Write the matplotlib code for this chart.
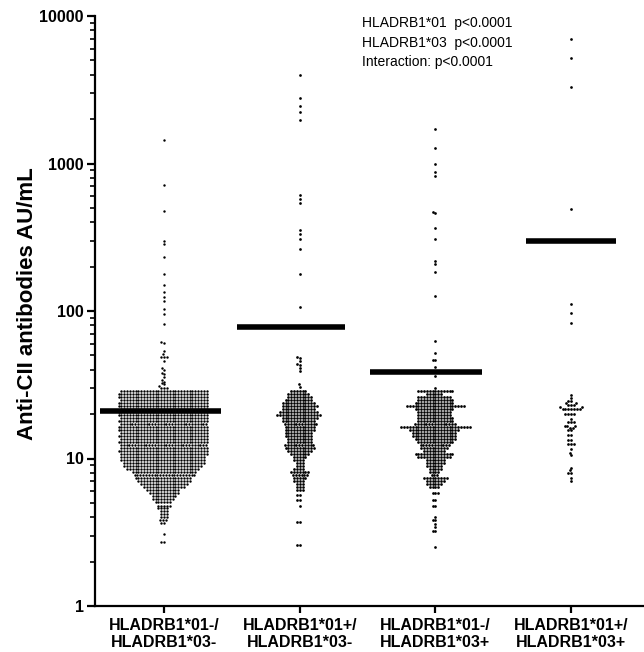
import numpy as np
import matplotlib
matplotlib.use("Agg")
import matplotlib.pyplot as plt
import seaborn as sns
import pandas as pd

plt.rcParams['font.family'] = ['Liberation Sans', 'DejaVu Sans']

categories = ["HLADRB1*01-/\nHLADRB1*03-", "HLADRB1*01+/\nHLADRB1*03-",
              "HLADRB1*01-/\nHLADRB1*03+", "HLADRB1*01+/\nHLADRB1*03+"]
medians = [21.0, 77.5, 38.6, 300.0]
annotation = ["HLADRB1*01  p<0.0001", "HLADRB1*03  p<0.0001", "Interaction: p<0.0001"]
yticks = [1, 10, 100, 1000, 10000]

# Group 1: isolated high values, then rows of (nearly) equal values with counts
g1_tail = [1450, 718, 476, 300, 283, 231, 178, 151, 134, 125, 116, 103, 95, 81,
           62, 61, 53.3, 50.9, 49, 49, 49, 45.6, 40.9, 39.8, 38.2, 37.2, 35.5,
           34, 33.2, 32.4, 31.8, 30.9, 30, 30, 30]
g1_levels = [28.7, 27.4, 26.1, 24.9, 23.8, 22.7, 21.7, 20.7, 19.7, 18.8, 18.0,
             17.1, 16.4, 15.6, 14.9, 14.2, 13.6, 12.9, 12.3, 11.8, 11.2, 10.7,
             10.2, 9.75, 9.3, 8.9, 8.5, 8.1, 7.7, 7.4, 7.0, 6.7, 6.4, 6.1, 5.8,
             5.55, 5.3, 5.05, 4.8, 4.6, 4.4, 4.2, 4.0, 3.8, 3.65, 3.1, 2.7]
g1_counts = [31, 32, 32, 31, 32, 32, 31, 32, 32, 31, 32, 31, 32, 32, 31, 32, 31,
             32, 31, 31, 32, 31, 30, 30, 29, 28, 26, 23, 22, 20, 19, 17, 15, 12,
             11, 9, 8, 6, 5, 4, 3, 3, 3, 3, 2, 1, 2]

g2_tail = [3980, 2795, 2455, 2245, 1972, 612, 571, 542, 354, 331, 308, 262,
           178, 107, 49, 48, 45.5, 43.6, 43, 41, 39, 31.9, 30.6]
g2_levels = [28.7, 27.4, 26.1, 24.9, 23.8, 22.7, 21.7, 20.7, 19.7, 18.8, 18.0,
             17.1, 16.4, 15.6, 14.9, 14.2, 13.6, 12.9, 12.3, 11.8, 11.2, 10.7,
             10.2, 9.75, 9.3, 8.9, 8.5, 8.1, 7.7, 7.4, 7.0, 6.7, 6.4, 6.1, 5.7,
             5.2, 4.8, 3.73, 2.59]
g2_counts = [6, 8, 9, 10, 12, 13, 12, 14, 16, 13, 12, 12, 11, 11, 10, 10, 9, 9,
             11, 11, 9, 7, 5, 4, 3, 3, 4, 7, 6, 5, 4, 3, 3, 3, 2, 2, 1, 2, 2]

g3_tail = [1714, 1268, 988, 880, 819, 471, 464, 364, 306, 219, 208, 183, 126,
           63, 51.7, 46.3, 46.3, 41.5, 36.1, 29.9]
g3_levels = [28.7, 27.4, 26.1, 24.9, 23.8, 22.7, 21.7, 20.7, 19.7, 18.8, 18.0,
             17.1, 16.4, 15.6, 14.9, 14.2, 13.6, 12.9, 12.3, 11.8, 11.2, 10.7,
             10.2, 9.75, 9.3, 8.9, 8.5, 8.1, 7.7, 7.4, 7.0, 6.7, 6.4, 5.8, 5.2,
             4.8, 4.0, 3.8, 3.6, 3.45, 3.2, 2.5]
g3_counts = [13, 6, 12, 13, 14, 21, 14, 12, 12, 13, 13, 15, 25, 18, 16, 16, 15,
             13, 11, 10, 8, 14, 12, 7, 7, 6, 5, 4, 3, 9, 7, 6, 4, 3, 2, 2, 1, 2,
             1, 1, 2, 1]

g4_tail = [6980, 5160, 3320, 489, 111.5, 97.4, 83.3]
g4_levels = [26.8, 25.7, 24.5, 23.7, 23.0, 22.2, 21.6, 19.9, 18.5, 17.6, 16.6,
             16.2, 15.6, 14.4, 13.4, 12.5, 11.6, 10.9, 10.5, 8.6, 8.3, 8.0, 7.4,
             7.0]
g4_counts = [1, 1, 2, 2, 3, 2, 7, 4, 1, 3, 3, 2, 2, 2, 2, 3, 1, 1, 1, 1, 1, 2,
             1, 1]

groups = [(g1_tail, g1_levels, g1_counts), (g2_tail, g2_levels, g2_counts),
          (g3_tail, g3_levels, g3_counts), (g4_tail, g4_levels, g4_counts)]

rows = []
for cat, (tail, levels, counts) in zip(categories, groups):
    vals = list(tail) + list(np.repeat(levels, counts))
    for v in vals:
        rows.append((cat, float(v)))
df = pd.DataFrame(rows, columns=["group", "value"])

W, H = 644, 652
fig = plt.figure(figsize=(W / 100, H / 100), dpi=100)
ax = fig.add_axes([95 / W, (H - 606) / H, (643 - 95) / W, (606 - 16) / H])
ax.set_yscale('log')
ax.set_ylim(1, 10000)
ax.set_xlim(-0.509, 3.53)

# swarm layout (collision diameter), then redraw the placed points slightly smaller
sns.swarmplot(data=df, x="group", y="value", order=categories, color="black",
              size=1.95, linewidth=0, ax=ax, warn_thresh=1.0)
ax.set_yscale('log')
ax.set_ylim(1, 10000)
ax.set_xlim(-0.509, 3.53)
fig.canvas.draw()
coll = ax.collections[0]
offs = np.asarray(coll.get_offsets())
coll.remove()
ax.scatter(offs[:, 0], offs[:, 1], s=1.75 ** 2, c="black", linewidths=0, zorder=3)

# median bars: (left, right) offsets from category centre
bar_extent = [(-0.47, 0.42), (-0.46, 0.33), (-0.48, 0.34), (-0.33, 0.33)]
for i, m in enumerate(medians):
    l, r = bar_extent[i]
    ax.hlines(m, i + l, i + r, color="black", linewidth=4.0, zorder=5)

ax.set_yscale('log')
ax.set_ylim(1, 10000)
ax.set_xlim(-0.509, 3.53)

for s in ["top", "right"]:
    ax.spines[s].set_visible(False)
for s in ["left", "bottom"]:
    ax.spines[s].set_linewidth(1.6)

ax.set_yticks(yticks)
ax.set_yticklabels([str(t) for t in yticks], fontsize=11.5, fontweight="bold")
ax.yaxis.set_minor_locator(matplotlib.ticker.LogLocator(base=10, subs=np.arange(2, 10)))
ax.yaxis.set_minor_formatter(matplotlib.ticker.NullFormatter())
ax.tick_params(axis="y", which="major", length=6, width=1.6, pad=2)
ax.tick_params(axis="y", which="minor", length=3.5, width=1.2)
ax.set_xticks(range(4))
ax.set_xticklabels(categories, fontsize=11.5, fontweight="bold", linespacing=1.15)
ax.tick_params(axis="x", length=5, width=1.6, pad=4)
ax.set_xlabel("")
ax.set_ylabel("Anti-CII antibodies AU/mL", fontsize=16, fontweight="bold")
ax.yaxis.set_label_coords(-0.104, 0.512)

for k, t in enumerate(annotation):
    fig.text(362 / W, 1 - (23 + 19.5 * k) / H, t, fontsize=10, va="center", ha="left")

fig.savefig("out.png", dpi=100)
